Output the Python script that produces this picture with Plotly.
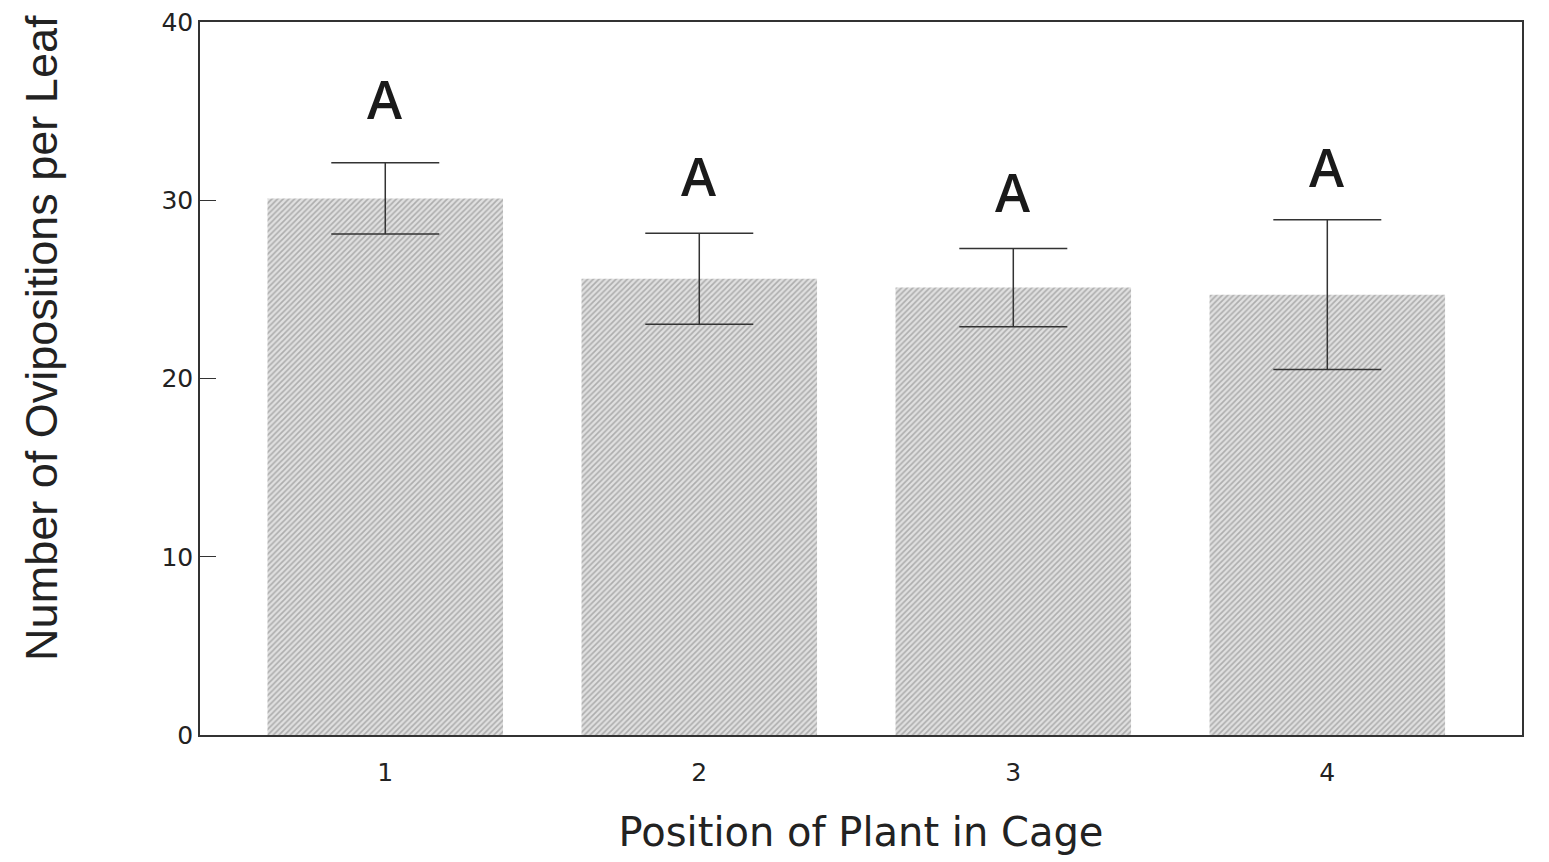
import plotly.graph_objects as go

positions = [1, 2, 3, 4]
tick_labels = ["1", "2", "3", "4"]
means = [30.1, 25.6, 25.1, 24.7]
errors = [2.0, 2.55, 2.2, 4.2]
letters = ["A", "A", "A", "A"]
letter_y = [35.7, 31.4, 30.5, 31.9]

fig = go.Figure()
fig.add_trace(go.Bar(
    x=positions, y=means, width=0.75,
    marker=dict(color="#d6d6d6", line=dict(width=0),
                pattern=dict(shape="/", size=4, solidity=0.4, fgcolor="#7a7a7a", bgcolor="#e0e0e0")),
    error_y=dict(type="data", array=errors, visible=True, color="#333333", thickness=1.5, width=54),
    showlegend=False,
))
for x, y, t in zip(positions, letter_y, letters):
    fig.add_annotation(x=x, y=y, text=t, showarrow=False,
                       font=dict(family="Open Sans", size=53, color="#1a1a1a", weight=600))

fig.add_annotation(xref="paper", yref="paper", x=-0.1195, y=0.557, textangle=-90,
                   xanchor="center", yanchor="middle", showarrow=False,
                   text="Number of Ovipositions per Leaf",
                   font=dict(family="Liberation Sans", size=45, color="#222"))

fig.update_layout(
    width=1549, height=862,
    margin=dict(l=192, r=35, t=14, b=135, autoexpand=False),
    plot_bgcolor="white", paper_bgcolor="white",
    xaxis=dict(range=[0.41, 4.62], tickvals=positions, ticktext=tick_labels,
               showgrid=False, zeroline=False, showline=True, linecolor="#333", linewidth=1.5,
               mirror=True, ticks="", ticklabelstandoff=14,
               tickfont=dict(family="DejaVu Sans", size=25, color="#222"),
               title=dict(text="Position of Plant in Cage", font=dict(family="DejaVu Sans", size=40, color="#222"),
                          standoff=32)),
    yaxis=dict(range=[0, 40], tickvals=[0, 10, 20, 30, 40], ticklabeloverflow="allow",
               showgrid=False, zeroline=False, showline=True, linecolor="#333", linewidth=1.5,
               mirror=True, ticks="inside", ticklen=16, tickcolor="#333",
               tickfont=dict(family="DejaVu Sans", size=25, color="#222")),
)
fig.write_html("out.html")
